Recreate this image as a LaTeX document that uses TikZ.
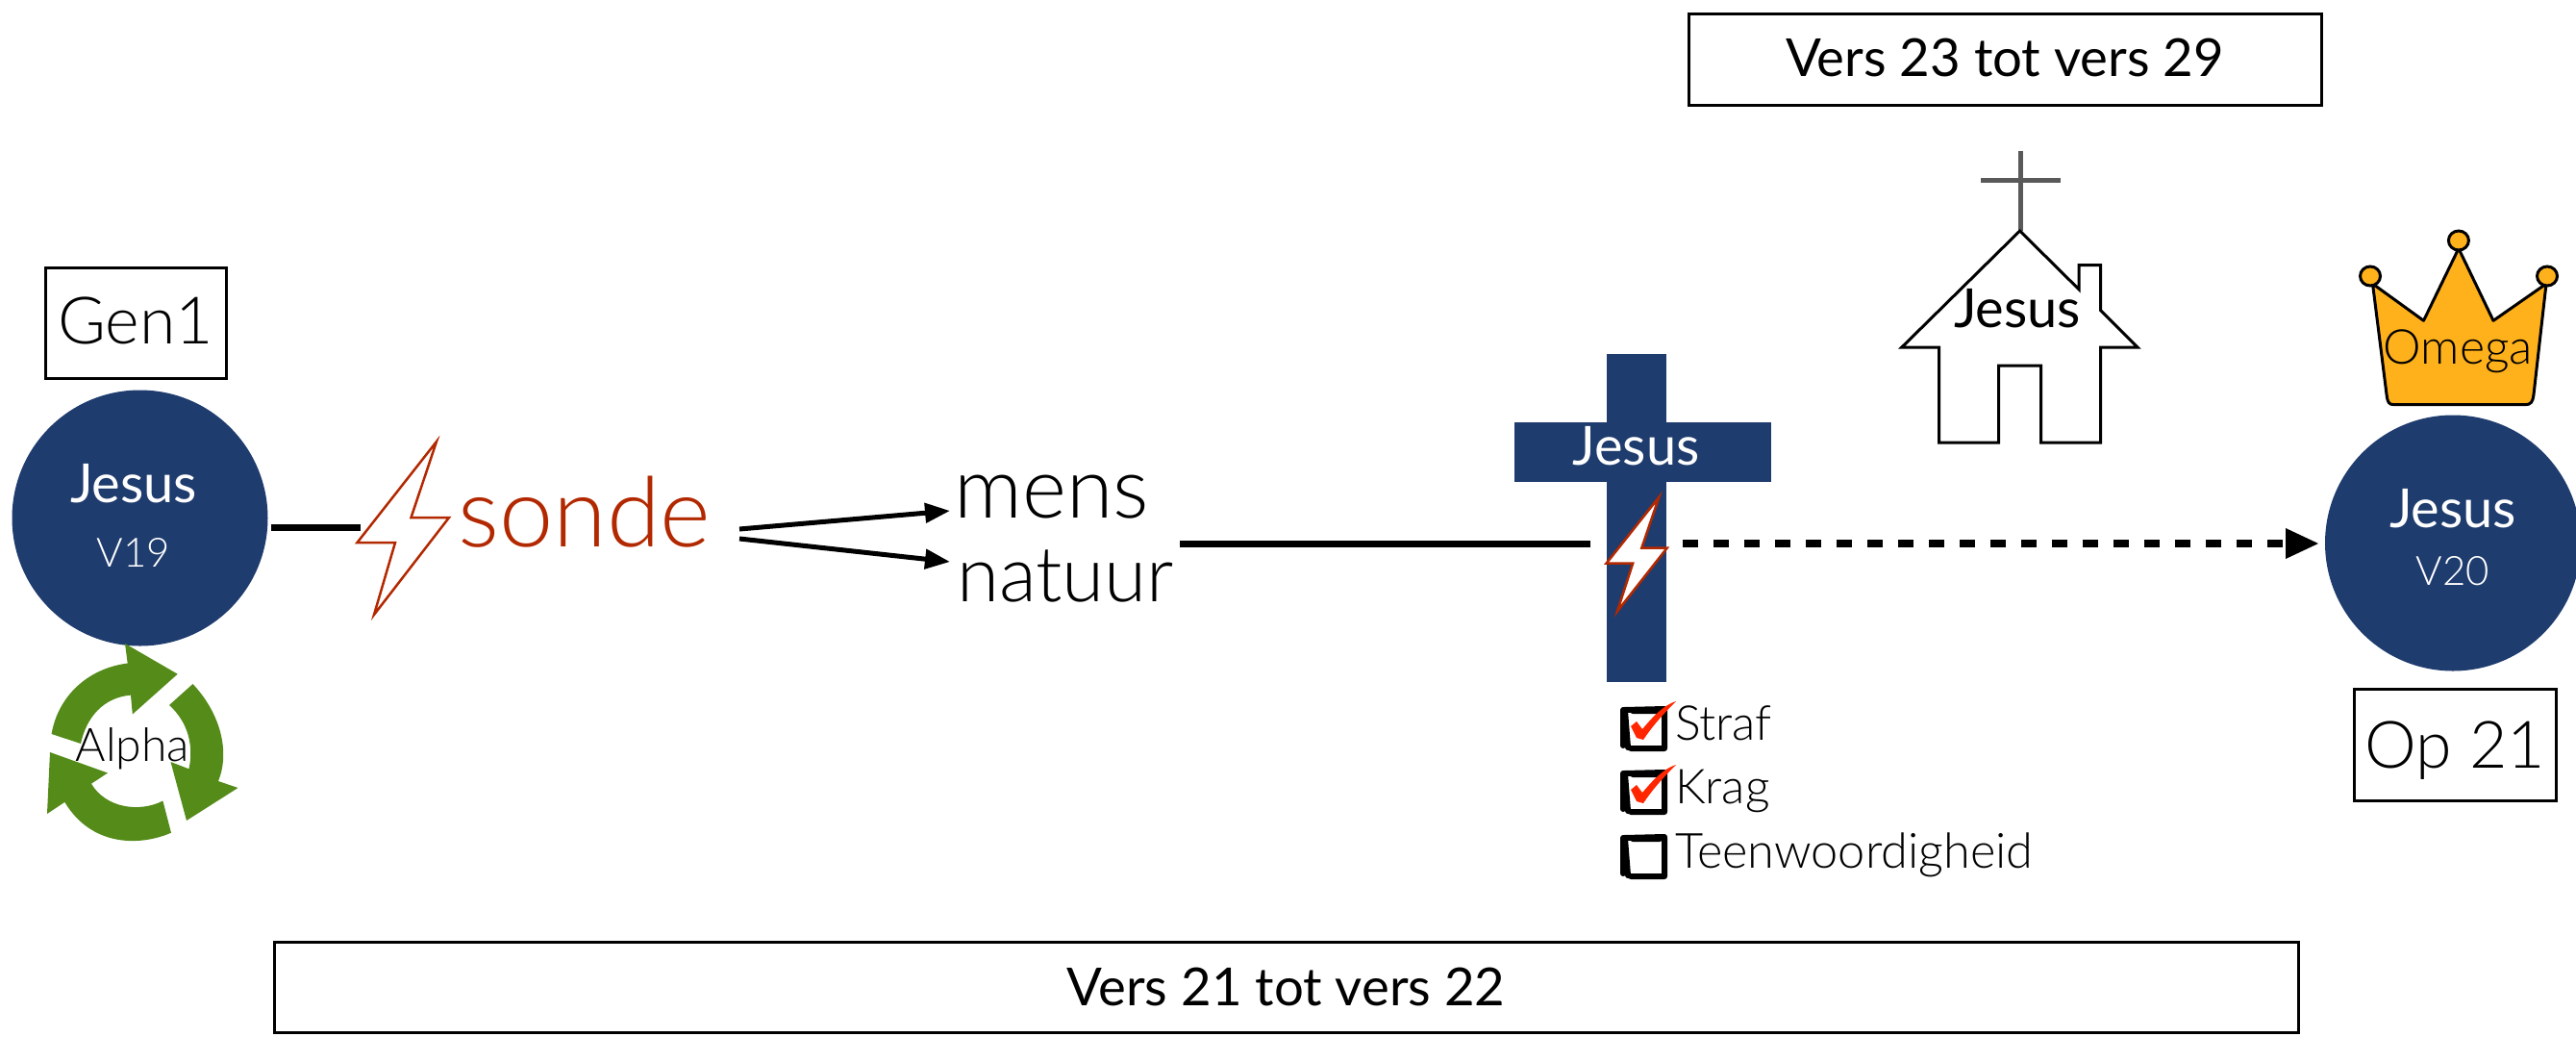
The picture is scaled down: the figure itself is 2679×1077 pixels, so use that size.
\documentclass[tikz,border=0pt]{standalone}
\usepackage{fontspec}
\setmainfont{Lato}[UprightFont=* Light,BoldFont=* Regular]
\usetikzlibrary{arrows.meta}
\newcommand{\fsz}[1]{\fontsize{#1}{#1}\selectfont}
\definecolor{navy}{HTML}{1F3C6E}
\definecolor{boltred}{HTML}{B22800}
\definecolor{leaf}{HTML}{548B19}
\definecolor{gold}{HTML}{FFB11B}
\definecolor{tickred}{HTML}{FF2600}
\definecolor{crossgrey}{HTML}{595959}
\tikzset{
  x=1pt,y=-1pt,
  lbl/.style={inner sep=0pt,outer sep=0pt,anchor=base},
  framebox/.style={draw=black,line width=3pt,inner sep=0pt,outer sep=0pt,text depth=0pt},
  disc/.style={fill=navy,draw=none},
  conn/.style={line width=7pt,black},
  thinarrow/.style={line width=5pt,black,-{Triangle[length=26pt,width=20pt]}},
  checkmark/.pic={
    \draw[line width=6pt,line cap=round,black] (0,1)--(0,38) (2,2)--(5,40) (1,1)--(43,0) (43,1)--(43,41) (8,41)--(43,41) (10,2)--(38,2);
  },
  tickmark/.pic={
    \fill[tickred] (9,18) -- (15,13) -- (21,21) .. controls (32,8) and (43,-4) .. (56,-8) .. controls (40,8) and (30,20) .. (22,32) -- (15,30) -- cycle;
  }
}
\begin{document}
\begin{tikzpicture}
\useasboundingbox (0,0) rectangle (2679,1077);
% top and bottom frames
\node[framebox,minimum width=658pt,minimum height=95pt,text height=35pt] (topframe) at (2085,61.5) {\fsz{54.5}\bfseries Vers 23 tot vers 29};
\node[framebox,minimum width=2105pt,minimum height=94pt,text height=38pt] (botframe) at (1337.5,1026) {\fsz{54.5}\bfseries Vers 21 tot vers 22};
% left group
\node[framebox,minimum width=188pt,minimum height=115pt,text height=42pt] (gen) at (141,336) {\fsz{68}Gen1};
\path[disc] (145.5,538.5) ellipse [x radius=133,y radius=133];
\coordinate (discL) at (145.5,538.5);
\node[lbl,text=white] (jesusL) at (139,522.5) {\fsz{56}\bfseries Jesus};
\node[lbl,text=white] (vL) at (139,589) {\fsz{42}V19};
% recycle arrows
\fill[leaf] (53.6,763) .. controls (60,725) and (90,695) .. (132.7,689.5) -- (130,669) -- (184.7,700.7) -- (137.8,742.5) -- (136,722.6) .. controls (108,725) and (90,745) .. (84,773) -- cycle;
\fill[leaf] (200.5,711) .. controls (228,740) and (240,780) .. (227,812) -- (247.5,819) -- (194,853) -- (177.5,792) -- (196.4,799.3) .. controls (202,775) and (195,750) .. (176,733) -- cycle;
\fill[leaf] (169.4,832.5) -- (178,865.7) .. controls (145,880) and (95,880) .. (67.3,833.8) -- (49,846) -- (52,782) -- (112,803.5) -- (95,814.7) .. controls (110,840) and (145,845) .. cycle;
\node[lbl] (alpha) at (138,791) {\fsz{48}Alpha};
% bolt and sonde
\coordinate (lineAstart) at (282,548.5);
\coordinate (lineAend) at (375,548.5);
\draw[conn] (lineAstart) -- (lineAend);
\draw[boltred,line width=2.5pt,fill=white,line join=miter] (454,459) -- (427.5,538) -- (467,538) -- (389,639) -- (411,564) -- (371.5,564) -- cycle;
\node[lbl,text=boltred] (sonde) at (608,568.4) {\fsz{101}sonde};
% mens natuur
\node[lbl] (mens) at (1093.5,538) {\fsz{88}mens};
\node[lbl] (natuur) at (1108,625) {\fsz{80}natuur};
\coordinate (sondeA) at (769,550);
\coordinate (sondeB) at (769,560);
\coordinate (mensW) at (988,531);
\coordinate (natuurW) at (988,584);
\draw[thinarrow] (sondeA) -- (mensW);
\draw[thinarrow] (sondeB) -- (natuurW);
% cross
\fill[navy] (1670.5,368) rectangle (1732.5,708.5);
\fill[navy] (1574.5,439) rectangle (1841.5,501);
\node[lbl,text=white] (jesusC) at (1701.5,483.5) {\fsz{56}\bfseries Jesus};
\coordinate (lineBstart) at (1227,565);
\coordinate (lineBend) at (1654,565);
\draw[conn] (lineBstart) -- (lineBend);
\draw[boltred,line width=2.5pt,fill=white,line join=miter] (1725.3,516.8) -- (1707.3,569.6) -- (1733.7,569.6) -- (1682,635.4) -- (1698.1,585.7) -- (1670.5,585.7) -- cycle;
\coordinate (dashstart) at (1750,565);
\coordinate (dashend) at (2411,565);
\draw[line width=8pt,dash pattern=on 16pt off 16pt,black] (dashstart) -- (2380,565);
\fill[black] (2377,549) -- (dashend) -- (2377,581) -- cycle;
% checklist
\pic at (1688,737) {checkmark};
\pic at (1687,737) {tickmark};
\pic at (1688,803) {checkmark};
\pic at (1687,803) {tickmark};
\pic at (1688,870) {checkmark};
\node[lbl,anchor=base west] (straf) at (1742,769.4) {\fsz{50}Straf};
\node[lbl,anchor=base west] (krag) at (1742,835.6) {\fsz{50}Krag};
\node[lbl,anchor=base west] (teen) at (1742,902.5) {\fsz{50.5}Teenwoordigheid};
% church
\draw[crossgrey,line width=5pt] (2101,157) -- (2101,240);
\draw[crossgrey,line width=5.5pt] (2060,187.3) -- (2142.6,187.3);
\draw[black,line width=3pt,fill=white,line join=miter] (2100.6,240) -- (2162.2,301) -- (2162.2,275.7) -- (2184.7,275.7) -- (2184.7,322.7) -- (2222.9,361) -- (2184.7,361) -- (2184.7,460) -- (2122.5,460) -- (2122.5,380) -- (2078.6,380) -- (2078.6,460) -- (2016.5,460) -- (2016.5,361) -- (1977.8,361) -- cycle;
\node[lbl] (jesusH) at (2098,340) {\fsz{56}\bfseries Jesus};
% crown
\draw[black,line width=3pt,fill=gold,line join=round] (2467.5,295) -- (2520.5,333.3) -- (2556.9,258.3) -- (2593,333.3) -- (2648,295) -- (2635,410) .. controls (2634,418) and (2632,420.7) .. (2626,420.7) -- (2490,420.7) .. controls (2484,420.7) and (2483,418) .. (2482,410) -- cycle;
\draw[black,line width=3pt,fill=gold] (2465,287) ellipse [x radius=10.5,y radius=10];
\draw[black,line width=3pt,fill=gold] (2556.9,250) ellipse [x radius=10.5,y radius=10];
\draw[black,line width=3pt,fill=gold] (2649,287) ellipse [x radius=10.5,y radius=10];
\node[lbl] (omega) at (2556.4,378.3) {\fsz{50}Omega};
% right group
\path[disc] (2551,564.5) ellipse [x radius=133,y radius=133];
\node[lbl,text=white] (jesusR) at (2551,548) {\fsz{56}\bfseries Jesus};
\node[lbl,text=white] (vR) at (2551,608) {\fsz{42}V20};
\node[framebox,minimum width=210pt,minimum height=116pt,text height=49pt] (op) at (2553,774) {\fsz{68}Op 21};
\end{tikzpicture}
\end{document}
